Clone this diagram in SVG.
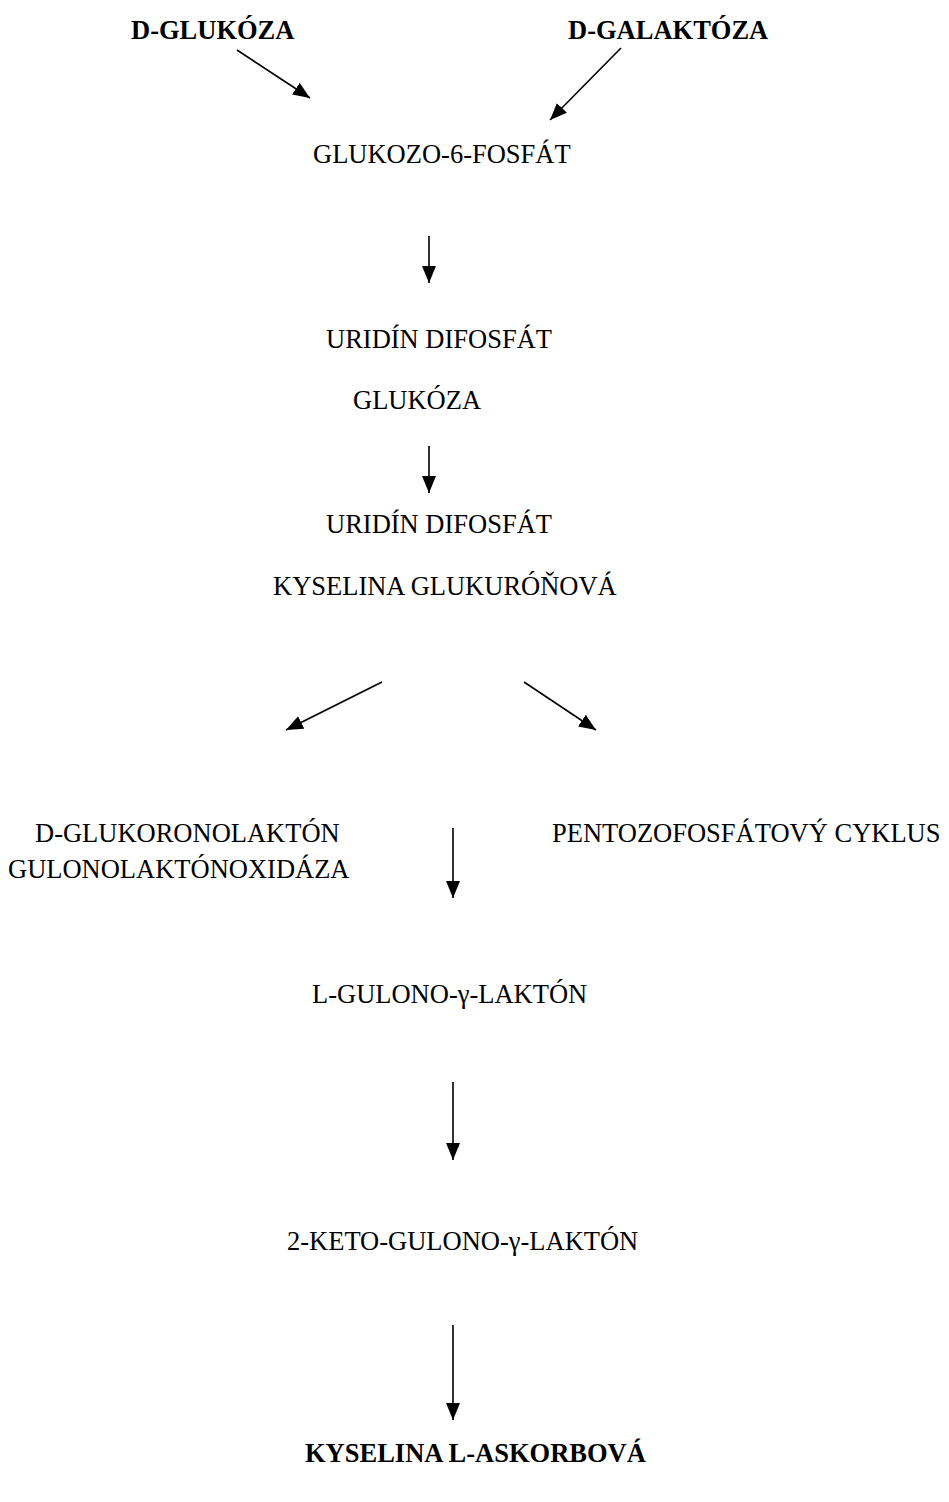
<svg xmlns="http://www.w3.org/2000/svg" width="949" height="1502" viewBox="0 0 949 1502">
<style>
text{font-family:"Liberation Serif","Times New Roman",serif;font-size:26.5px;fill:#000}
.b{font-weight:bold}
.c{stroke:#000;stroke-width:1.6;fill:none;marker-end:url(#ah)}
</style>
<defs>
<marker id="ah" markerUnits="userSpaceOnUse" markerWidth="20" markerHeight="16" refX="17" refY="7" orient="auto">
<path d="M0,0 L17,7 L0,14 Z" fill="#000"/>
</marker>
</defs>
<rect width="949" height="1502" fill="#fff"/>
<g id="n-dglukoza"><text class="b" x="131" y="39">D-GLUKÓZA</text></g>
<g id="n-dgalaktoza"><text class="b" x="568" y="39">D-GALAKTÓZA</text></g>
<g id="n-g6p"><text x="313" y="163">GLUKOZO-6-FOSFÁT</text></g>
<g id="n-udpg"><text x="326" y="348">URIDÍN DIFOSFÁT</text><text x="353" y="409">GLUKÓZA</text></g>
<g id="n-udpga"><text x="326" y="533">URIDÍN DIFOSFÁT</text><text x="273" y="595">KYSELINA GLUKURÓŇOVÁ</text></g>
<g id="n-dgl"><text x="35" y="842">D-GLUKORONOLAKTÓN</text><text x="8" y="878">GULONOLAKTÓNOXIDÁZA</text></g>
<g id="n-ppc"><text x="552" y="842">PENTOZOFOSFÁTOVÝ CYKLUS</text></g>
<g id="n-lgl"><text x="312" y="1003">L-GULONO-γ-LAKTÓN</text></g>
<g id="n-kgl"><text x="287" y="1250">2-KETO-GULONO-γ-LAKTÓN</text></g>
<g id="n-asc"><text class="b" x="305" y="1462">KYSELINA L-ASKORBOVÁ</text></g>
<g id="connectors">
<line class="c" x1="237" y1="50" x2="310" y2="98"/>
<line class="c" x1="621" y1="48" x2="550" y2="120"/>
<line class="c" x1="429" y1="236" x2="429" y2="283"/>
<line class="c" x1="429" y1="446" x2="429" y2="493"/>
<line class="c" x1="382" y1="682" x2="286" y2="730"/>
<line class="c" x1="524" y1="682" x2="596" y2="730"/>
<line class="c" x1="453" y1="828" x2="453" y2="898"/>
<line class="c" x1="453" y1="1082" x2="453" y2="1160"/>
<line class="c" x1="453" y1="1325" x2="453" y2="1420"/>
</g>
</svg>
